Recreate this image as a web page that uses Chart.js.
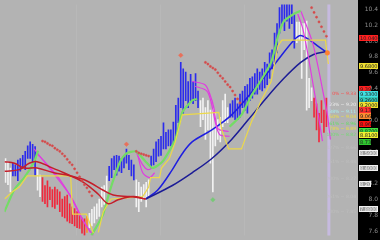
<!DOCTYPE html>
<html>
<head>
<meta charset="utf-8">
<script src="https://cdn.jsdelivr.net/npm/chart.js@4.4.1/dist/chart.umd.min.js"></script>
<style>
    html, body { margin: 0; padding: 0; background: #b3b3b3; }
    #wrap { width: 380px; height: 240px; }
</style>
</head>
<body>
<div id="wrap"><canvas id="chartPicture"></canvas></div>
<script>
// price bars, one per session
const highs = [
    8.52, 8.48, 8.40, 8.46, 8.44, 8.50, 8.52, 8.56, 8.61, 8.68,
    8.73, 8.70, 8.67, 8.40, 8.31, 8.28, 8.18, 8.24, 8.16, 8.13,
    8.16, 8.13, 8.10, 8.01, 8.04, 8.06, 7.95, 7.91, 7.89, 7.85,
    7.83, 7.77, 7.76, 7.79, 7.83, 7.88, 7.91, 7.95, 8.01, 8.16,
    8.18, 8.30, 8.42, 8.52, 8.55, 8.56, 8.55, 8.52, 8.55, 8.64,
    8.56, 8.50, 8.44, 8.25, 8.22, 8.16, 8.19, 8.22, 8.25, 8.55,
    8.64, 8.73, 8.76, 8.80, 8.97, 8.85, 8.88, 8.88, 8.98, 9.19,
    9.28, 9.73, 9.65, 9.61, 9.49, 9.58, 9.49, 9.59, 9.37, 9.25,
    9.28, 9.16, 9.25, 9.13, 9.15, 9.09, 9.01, 9.04, 9.25, 9.33,
    9.16, 9.21, 9.25, 9.28, 9.21, 9.33, 9.37, 9.43, 9.45, 9.53,
    9.55, 9.59, 9.65, 9.61, 9.65, 9.73, 9.71, 9.85, 9.89, 10.10,
    10.22, 10.42, 10.50, 10.50, 10.50, 10.50, 10.50, 10.34, 10.24, 10.24,
    10.22, 10.22, 10.25, 9.53, 9.41, 9.28, 9.21, 9.09, 9.25, 9.13,
    9.28
];
const lows = [
    8.22, 8.19, 8.10, 8.30, 8.30, 8.24, 8.36, 8.40, 8.38, 8.52,
    8.52, 8.46, 8.31, 8.12, 8.04, 7.98, 7.95, 7.91, 8.00, 7.91,
    7.89, 7.94, 7.85, 7.79, 7.77, 7.73, 7.71, 7.70, 7.67, 7.65,
    7.64, 7.58, 7.55, 7.59, 7.65, 7.67, 7.71, 7.76, 7.79, 7.91,
    7.94, 8.10, 8.24, 8.28, 8.38, 8.31, 8.36, 8.34, 8.40, 8.46,
    8.38, 8.30, 8.25, 7.91, 7.85, 7.98, 8.00, 7.91, 8.04, 8.40,
    8.44, 8.48, 8.55, 8.56, 8.64, 8.64, 8.68, 8.68, 8.70, 8.80,
    8.97, 9.16, 9.09, 9.25, 9.16, 9.25, 9.21, 9.25, 9.16, 8.92,
    9.01, 8.76, 8.88, 8.46, 8.10, 8.68, 8.76, 8.73, 8.92, 8.97,
    8.97, 9.04, 9.04, 9.01, 9.01, 9.04, 9.16, 9.13, 9.09, 9.25,
    9.28, 9.33, 9.33, 9.39, 9.37, 9.41, 9.45, 9.53, 9.65, 9.73,
    9.85, 10.10, 10.22, 10.13, 10.25, 10.16, 10.22, 9.91, 9.98, 10.01,
    9.53, 9.89, 9.13, 9.16, 9.25, 9.04, 8.88, 8.73, 8.97, 8.85,
    8.92
];
// b = up trend, r = down trend, w = neutral, o = exhaustion
const barKinds = (
    "www" + "bbbbbbbbbb" + "ww" + "rrrrrrrrrrrrrrrrrr" + "o" + "wwwwwwww" +
    "bbbbbbbbbbb" + "wwwwww" + "bbbbbbbbbbbbbbbbbbbb" + "wwwwwwwwwwww" +
    "bbbbbbbbbbbbbbbbbbbbbbbbbbb" + "wwwwwww" + "rrrrrr"
).split("");

// indicator lines as [session, price]
const blueFast = [[56.8, 8.01], [61.6, 8.12], [67.6, 8.38], [71.6, 8.58], [75.6, 8.73], [83.6, 8.88], [91.6, 9.07], [99.6, 9.35], [108.8, 9.70], [116.8, 10.01], [119.6, 10.07], [122.8, 10.02], [126.4, 9.94], [130.4, 9.85]];
const blueSlow = [[56.8, 8.01], [67.6, 8.18], [75.6, 8.34], [83.6, 8.52], [91.6, 8.76], [98.4, 9.01], [105.6, 9.28], [112.8, 9.53], [119.6, 9.73], [124.8, 9.83], [130.4, 9.87]];
const redUpper = [[-0.4, 8.48], [3.6, 8.46], [7.6, 8.40], [12.8, 8.40], [19.6, 8.34], [26.4, 8.30], [32.8, 8.24], [39.6, 8.12], [43.6, 8.06], [50.4, 8.04], [56.8, 8.01]];
const redLower = [[-0.4, 8.36], [5.6, 8.38], [9.6, 8.46], [12.8, 8.48], [17.6, 8.42], [23.6, 8.34], [31.6, 8.22], [37.6, 8.07], [41.6, 7.95], [45.6, 8.00], [51.6, 8.04], [56.8, 8.01]];
const greenSegments = [
    [[-0.4, 7.85], [3.6, 8.13], [7.6, 8.28], [11.6, 8.48], [13.2, 8.62]],
    [[34.8, 7.55], [37.6, 7.70], [39.6, 7.82], [41.6, 8.04], [43.6, 8.24], [46.4, 8.48], [48.8, 8.58], [52.8, 8.61], [56.8, 8.48], [59.6, 8.40], [63.6, 8.48], [68.8, 8.76], [71.6, 9.10], [75.6, 9.25], [77.6, 9.27]],
    [[90.8, 8.92], [95.6, 9.07], [99.6, 9.31], [102.4, 9.45], [107.6, 9.73], [110.4, 10.06], [112.8, 10.25], [116.8, 10.34], [119.6, 10.38]]
];
const magentaSegments = [
    [[11.6, 8.64], [13.6, 8.56], [16.8, 8.44], [20.8, 8.28], [26.4, 8.04], [30.4, 7.79], [34.4, 7.59]],
    [[12.8, 8.58], [17.6, 8.42], [22.4, 8.24], [27.6, 7.98], [31.6, 7.73], [35.6, 7.55]],
    [[52.8, 8.61], [55.6, 8.44], [57.6, 8.38], [59.6, 8.40]],
    [[53.6, 8.56], [55.6, 8.34], [58.4, 8.28], [60.4, 8.34]],
    [[75.6, 9.49], [80.8, 9.45], [82.8, 9.33], [84.4, 9.16], [85.6, 8.92], [86.8, 8.88], [90.4, 8.86]],
    [[76.8, 9.43], [81.6, 9.37], [83.6, 9.19], [85.2, 8.95], [86.8, 8.82], [90.8, 8.80]],
    [[119.6, 10.38], [121.6, 10.22], [124.4, 9.98], [126.8, 9.65], [128.8, 9.33], [130.4, 9.07], [131.6, 8.76]],
    [[118.4, 10.34], [120.4, 10.16], [122.4, 9.85], [124.4, 9.49], [126.4, 9.13], [128.4, 8.74]]
];
const yellowSegments = [
    [[-0.4, 8.01], [2.8, 8.10], [5.6, 8.16], [8.8, 8.30], [26.4, 8.30], [27.2, 7.82], [32.8, 7.82], [35.6, 7.58]],
    [[37.6, 7.59], [39.6, 7.85], [42.8, 8.01], [55.6, 8.04], [58.0, 8.16], [58.8, 8.28], [62.4, 8.28], [63.2, 8.40], [66.4, 8.52], [68.8, 8.73], [71.6, 9.07], [86.4, 9.10], [87.6, 8.88], [90.4, 8.64], [95.6, 8.64], [99.6, 8.98], [103.6, 9.25], [107.6, 9.49], [110.4, 9.94], [112.0, 10.01], [129.6, 10.01], [130.8, 9.71]]
];
// parabolic stop dots: first session of each run, then one price per session
const sarStarts = [15, 53, 81, 124];
const sarValues = [
    [8.74, 8.73, 8.71, 8.69, 8.68, 8.65, 8.63, 8.61, 8.58, 8.55, 8.51, 8.47, 8.44, 8.39, 8.34, 8.29, 8.24, 8.19, 8.15, 8.10, 8.05],
    [8.61, 8.59, 8.58, 8.57, 8.56, 8.55],
    [9.73, 9.71, 9.68, 9.66, 9.64, 9.60, 9.56, 9.53, 9.49, 9.45, 9.42, 9.37, 9.32, 9.27, 9.22],
    [10.42, 10.36, 10.30, 10.24, 10.18, 10.12, 10.06]
];
const fractalHigh = [[49, 8.70], [71, 9.82]];
const fractalLow = [[84, 8.00]];
const crossPoint = [[130.4, 9.85]];

const tickValues = [7.6, 7.8, 8.0, 8.2, 8.4, 8.6, 8.8, 9.0, 9.2, 9.4, 9.6, 9.8, 10.0, 10.2, 10.4];
const boxValues = [10.04, 9.68, 9.39, 9.33, 9.26, 9.20, 9.13, 9.06, 8.96, 8.87, 8.81, 8.73, 8.59, 8.40, 8.20, 7.88];
const fibTexts = ["0% ~ 9.33", "23% ~ 9.20", "38% ~ 9.11", "50% ~ 9.04", "61% ~ 8.96", "78% ~ 8.89", "100% ~ 8.82", "127% ~ 8.66", "161% ~ 8.48", "200% ~ 8.27", "261% ~ 8.04", "300% ~ 7.85"];
const fibValues = [9.33, 9.20, 9.11, 9.04, 8.96, 8.89, 8.82, 8.66, 8.48, 8.27, 8.04, 7.85];
const gridSessions = [28.4, 62.4, 96.8];
const currentSession = 131;

// styles
const kindColor = { b: '#2b2bec', r: '#f0283c', w: '#f2f2f2', o: '#ff8c28' };
const boxFill = ['#ff2020', '#f0e030', '#ff2020', '#40e0e0', '#30c8b8', '#f0e030', '#ff3030', '#ff8c30', '#ff1010', '#40e040', '#f0f030', '#30c830', '#9c9c9c', '#9c9c9c', '#9c9c9c', '#9c9c9c'];
const boxWide = [true, true, false, true, true, true, false, false, false, true, true, false, true, true, false, true];
const fibColors = ['#ff4848', '#f0f0f0', '#a8eeee', '#eee040', '#60e060', '#eee040', '#70dc70', '#bebebe', '#bebebe', '#bebebe', '#bebebe', '#bebebe'];

const toPoints = (pairs) => pairs.map(p => ({ x: p[0], y: p[1] }));

const datasets = [];
datasets.push({
    type: 'bar',
    data: highs.map((h, i) => ({ x: i, y: [lows[i], h] })),
    backgroundColor: barKinds.map(k => kindColor[k]),
    barThickness: 1,
    order: 5,
});

function addLine(pairs, color, width, tension)
{
    datasets.push({
        type: 'line',
        data: toPoints(pairs),
        borderColor: color,
        borderWidth: width,
        pointRadius: 0,
        tension: tension,
        order: 2,
    });
}

function addDots(pairs, color, radius, style)
{
    datasets.push({
        type: 'line',
        data: toPoints(pairs),
        showLine: false,
        pointRadius: radius,
        pointStyle: style,
        pointBackgroundColor: color,
        pointBorderColor: color,
        pointBorderWidth: 0.5,
        order: 1,
    });
}

addLine(redUpper, '#c41e2a', 1.5, 0.35);
addLine(redLower, '#c41e2a', 1.5, 0.35);
for (const seg of yellowSegments) addLine(seg, '#ecd84a', 1.2, 0);
for (const seg of greenSegments) addLine(seg, '#74dc66', 2.2, 0.2);
for (const seg of magentaSegments) addLine(seg, '#e03ce0', 1.2, 0.3);
addLine(blueSlow, '#1c1c96', 1.5, 0.35);
addLine(blueFast, '#1e1ee0', 1.5, 0.35);

sarStarts.forEach((start, s) =>
{
    addDots(sarValues[s].map((v, k) => [start + k, v]), '#d44a4a', 1.1, 'circle');
});
addDots(fractalHigh, '#e8705a', 2.3, 'rectRot');
addDots(fractalLow, '#78c878', 2.3, 'rectRot');
addDots(crossPoint, '#ff8030', 2.3, 'circle');

const backdrop =
{
    id: 'backdrop',
    beforeDraw(chart)
    {
        const { ctx, chartArea, width, height, scales } = chart;
        ctx.save();
        ctx.fillStyle = '#b3b3b3';
        ctx.fillRect(0, 0, width, height);
        ctx.fillStyle = '#000000';
        ctx.fillRect(chartArea.right, 0, width - chartArea.right, height);

        ctx.strokeStyle = 'rgba(255, 255, 255, 0.07)';
        ctx.lineWidth = 1;
        for (const g of gridSessions)
        {
            const x = Math.round(scales.x.getPixelForValue(g)) + 0.5;
            ctx.beginPath();
            ctx.moveTo(x, chartArea.top);
            ctx.lineTo(x, chartArea.bottom);
            ctx.stroke();
        }

        const mx = scales.x.getPixelForValue(currentSession);
        ctx.strokeStyle = '#c6badf';
        ctx.lineWidth = 3;
        ctx.beginPath();
        ctx.moveTo(mx, chartArea.top);
        ctx.lineTo(mx, chartArea.bottom);
        ctx.stroke();
        ctx.restore();
    },
    afterDraw(chart)
    {
        const { ctx, chartArea, width, scales } = chart;
        const y = scales.y;
        ctx.save();
        ctx.textBaseline = 'middle';

        // tick labels
        ctx.font = '6px "DejaVu Sans"';
        ctx.fillStyle = '#8e8e8e';
        ctx.textAlign = 'right';
        for (const t of tickValues)
        {
            ctx.fillText(t.toFixed(1), width - 2, y.getPixelForValue(t));
        }

        // current value boxes
        ctx.font = '5px "DejaVu Sans"';
        boxValues.forEach((v, i) =>
        {
            const cy = Math.round(y.getPixelForValue(v));
            const x0 = chartArea.right + 1;
            const w = boxWide[i] ? 19 : 12;
            ctx.fillStyle = boxFill[i];
            ctx.fillRect(x0, cy - 3, w, 6);
            if (boxFill[i] === '#9c9c9c')
            {
                ctx.strokeStyle = '#f0f0f0';
                ctx.lineWidth = 1;
                ctx.strokeRect(x0 + 0.5, cy - 2.5, w - 1, 5);
            }
            ctx.fillStyle = boxFill[i] === '#9c9c9c' ? '#f4f4f4' : '#202020';
            ctx.textAlign = 'left';
            ctx.fillText(boxWide[i] ? v.toFixed(4) : v.toFixed(2), x0 + 1, cy + 0.5);
        });

        // retracement labels
        ctx.font = '4.5px "DejaVu Sans"';
        ctx.textAlign = 'right';
        fibTexts.forEach((txt, i) =>
        {
            ctx.fillStyle = fibColors[i];
            ctx.fillText(txt, chartArea.right - 2, y.getPixelForValue(fibValues[i]));
        });
        ctx.restore();
    }
};

const context = document.getElementById("chartPicture");

const myChart = new Chart(context,
{
    data: { datasets: datasets },
    options:
    {
        animation: false,
        responsive: true,
        maintainAspectRatio: false,
        events: [],
        layout: { padding: { left: 0, right: 22, top: 0, bottom: 0 } },
        plugins:
        {
            legend: { display: false },
            tooltip: { enabled: false },
        },
        scales:
        {
            x: { type: 'linear', min: -0.4, max: 142.8, offset: false, display: false },
            y: { type: 'linear', min: 7.55, max: 10.46, display: false },
        }
    },
    plugins: [backdrop],
});
</script>
</body>
</html>
